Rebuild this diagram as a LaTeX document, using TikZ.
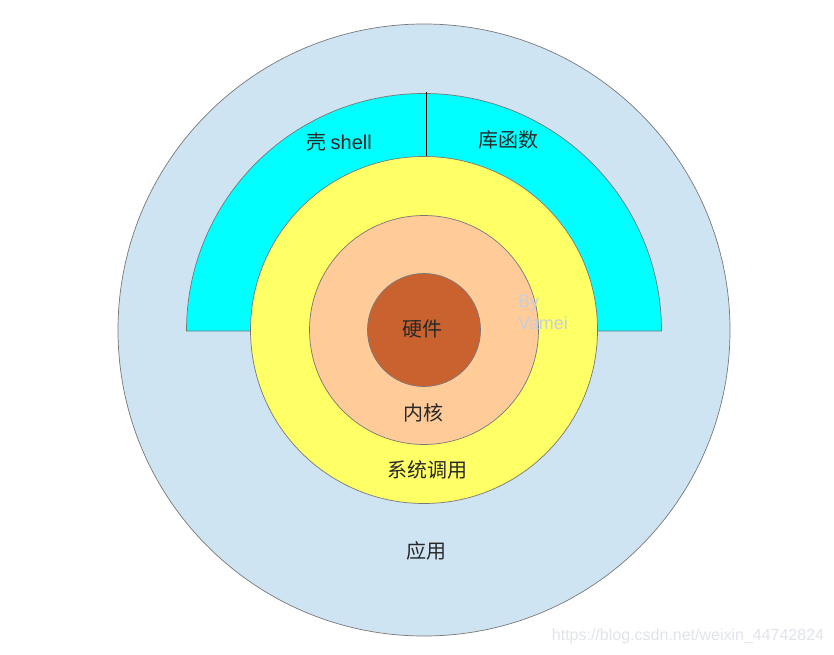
\documentclass[tikz,border=0pt]{standalone}
\usepackage{fontspec}
\setmainfont{Liberation Sans}
\newfontfamily\cjk{Noto Sans CJK SC}
\definecolor{appblue}{RGB}{207,228,242}
\definecolor{shellcyan}{RGB}{0,255,255}
\definecolor{sysyellow}{RGB}{255,255,102}
\definecolor{kernpeach}{RGB}{255,203,153}
\definecolor{hwbrown}{RGB}{202,98,48}
\definecolor{edgegray}{RGB}{120,120,120}
\definecolor{txtgray}{RGB}{40,40,40}
\definecolor{wmgray}{RGB}{200,207,216}
\begin{document}
\begin{tikzpicture}[x=1pt,y=1pt,
  ring/.style={draw=edgegray,line width=0.7pt},
  lbl/.style={text=txtgray,font=\cjk\fontsize{20}{24}\selectfont,inner sep=0pt},
  mark2/.style={text=wmgray,font=\fontsize{18}{22}\selectfont,inner sep=0pt,align=left,anchor=north west}]
\useasboundingbox (0,0) rectangle (834,654);
\fill[white] (0,0) rectangle (834,654);
\coordinate (c) at (424,324);
% outer application disc
\filldraw[ring,fill=appblue] (c) circle[radius=306];
% shell / library half annulus
\filldraw[ring,fill=shellcyan] (186.5,323) arc[start angle=180,end angle=0,radius=237.5] -- cycle;
\coordinate (divtop) at (426,562);
\coordinate (divbot) at (426,496);
\draw[black,line width=0.8pt] (divtop) -- (divbot);
% system calls
\filldraw[ring,fill=sysyellow] (c) circle[radius=173.5];
% kernel
\filldraw[ring,fill=kernpeach] (c) circle[radius=114.5];
% hardware
\filldraw[ring,fill=hwbrown] (c) circle[radius=56.5];
% labels
\node[lbl] (shell) at (339,512) {壳 {\fontspec{Liberation Sans}shell}};
\node[lbl] (lib) at (508,514) {库函数};
\node[lbl] (hw) at (422,325) {硬件};
\node[lbl] (kern) at (423,241) {内核};
\node[lbl] (sys) at (427,184) {系统调用};
\node[lbl] (app) at (426,103) {应用};
\node[mark2] (by) at (518,359) {By\\Vamei};
\node[text=wmgray!55,font=\fontsize{16}{18}\selectfont,inner sep=0pt] (url) at (688,18) {https://blog.csdn.net/weixin\_44742824};
\end{tikzpicture}
\end{document}
